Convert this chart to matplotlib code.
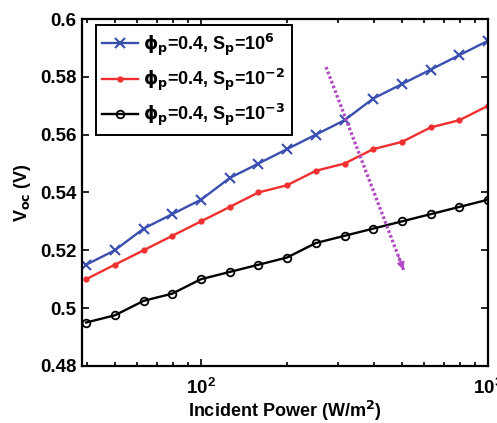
import numpy as np
import matplotlib.pyplot as plt
from matplotlib.ticker import LogLocator, NullFormatter

plt.rcParams['font.family'] = ['Liberation Sans', 'DejaVu Sans']
plt.rcParams['font.weight'] = 'bold'
plt.rcParams['mathtext.default'] = 'bf'

# incident power (W/m^2), 10 points per decade
power = [39.8, 50.1, 63.1, 79.4, 100, 125.9, 158.5, 199.5, 251.2, 316.2,
         398.1, 501.2, 631.0, 794.3, 1000]

voc_sp_1e6 = [0.515, 0.52, 0.5275, 0.5325, 0.5375, 0.545, 0.55, 0.555, 0.56,
              0.565, 0.5725, 0.5775, 0.5825, 0.5875, 0.5925]
voc_sp_1e_2 = [0.51, 0.515, 0.52, 0.525, 0.53, 0.535, 0.54, 0.5425, 0.5475,
               0.55, 0.555, 0.5575, 0.5625, 0.565, 0.57]
voc_sp_1e_3 = [0.495, 0.4975, 0.5025, 0.505, 0.51, 0.5125, 0.515, 0.5175,
               0.5225, 0.525, 0.5275, 0.53, 0.5325, 0.535, 0.5375]

labels = [r'$\phi_p$=0.4, S$_p$=10$^6$',
          r'$\phi_p$=0.4, S$_p$=10$^{-2}$',
          r'$\phi_p$=0.4, S$_p$=10$^{-3}$']

# trend arrow (data coords)
arrow_start = (272.6, 0.5834)
arrow_end = (508, 0.5132)

fig = plt.figure(figsize=(4.97, 4.23), dpi=100)
ax = fig.add_axes([0.165, 0.135, 0.817, 0.820])

ax.plot(power, voc_sp_1e6, color='#3a4fb0', marker='x', ms=6.5, mew=1.5,
        lw=1.7, label=labels[0])
ax.plot(power, voc_sp_1e_2, color='#f03030', marker='.', ms=7,
        lw=1.7, label=labels[1])
ax.plot(power, voc_sp_1e_3, color='k', marker='o', ms=5.5, mfc='none',
        mew=1.3, lw=1.7, label=labels[2])

# dotted shaft + small head
purple = '#b34bc4'
ax.plot([arrow_start[0], arrow_end[0]], [arrow_start[1], arrow_end[1]],
        color=purple, lw=2.4, ls=(0, (0.8, 0.7)))
t = 0.93
head_tail = (10 ** (np.log10(arrow_start[0]) * (1 - t) + np.log10(arrow_end[0]) * t),
             arrow_start[1] * (1 - t) + arrow_end[1] * t)
ax.annotate('', xy=arrow_end, xytext=head_tail,
            arrowprops=dict(arrowstyle='-|>', color=purple, lw=1.2,
                            mutation_scale=11, shrinkA=0, shrinkB=0))

ax.set_xscale('log')
ax.set_xlim(38.5, 1000)
ax.set_ylim(0.48, 0.6)
ax.set_yticks([0.48, 0.5, 0.52, 0.54, 0.56, 0.58, 0.6])
ax.set_yticklabels(['0.48', '0.5', '0.52', '0.54', '0.56', '0.58', '0.6'])
ax.xaxis.set_major_locator(LogLocator(base=10))
ax.xaxis.set_minor_locator(LogLocator(base=10, subs=np.arange(2, 10)))
ax.xaxis.set_minor_formatter(NullFormatter())

ax.tick_params(which='both', direction='in', top=True, right=True,
               labelsize=13.5, width=1.2)
ax.tick_params(which='major', length=5)
ax.tick_params(which='minor', length=3)
ax.tick_params(axis='x', pad=9)
ax.tick_params(axis='y', pad=4)
for s in ax.spines.values():
    s.set_linewidth(1.6)

ax.set_xlabel(r'Incident Power (W/m$^2$)', fontsize=13, fontweight='bold',
              labelpad=0)
ax.set_ylabel(r'V$_{oc}$ (V)', fontsize=13, fontweight='bold', labelpad=5)

leg = ax.legend(loc='upper left', bbox_to_anchor=(0.0345, 0.983),
                borderaxespad=0, fontsize=13, fancybox=False, framealpha=1,
                edgecolor='k', handlelength=2.0, handletextpad=0.25,
                labelspacing=0.5, borderpad=0.35)
leg.get_frame().set_linewidth(1.4)

fig.savefig('out.png', dpi=100)
